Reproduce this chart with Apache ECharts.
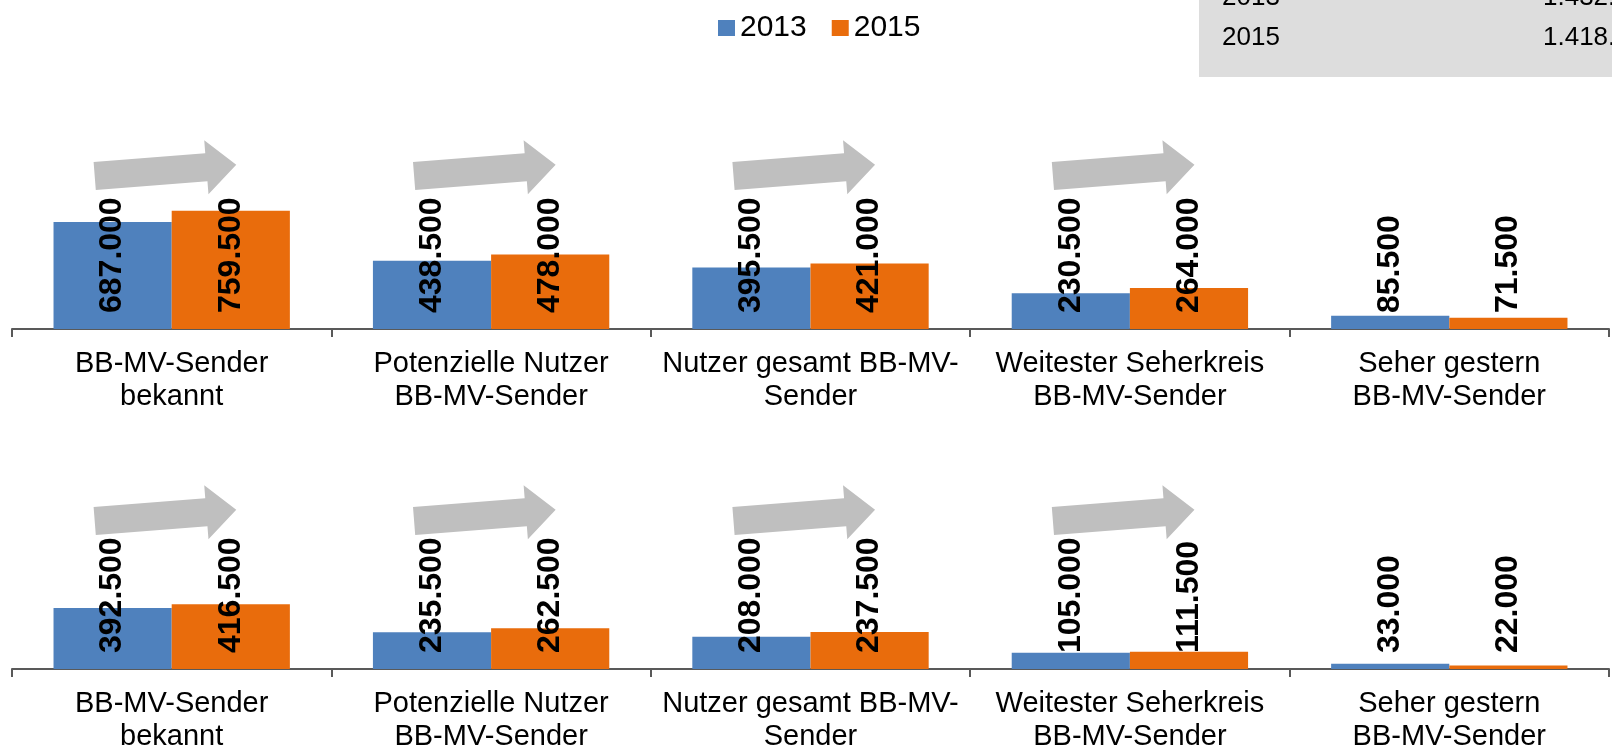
<!DOCTYPE html>
<html>
<head>
<meta charset="utf-8">
<script src="https://cdn.jsdelivr.net/npm/echarts@6.0.0/dist/echarts.min.js"></script>
<style>
    html, body { margin: 0; padding: 0; background: #ffffff; }
    #chart-container { width: 1612px; height: 748px; }
</style>
</head>
<body>
<div id="chart-container"></div>
<script>
    // Kategorien (Umbruch wie im Original)
    var categories = [
        'BB-MV-Sender\nbekannt',
        'Potenzielle Nutzer\nBB-MV-Sender',
        'Nutzer gesamt BB-MV-\nSender',
        'Weitester Seherkreis\nBB-MV-Sender',
        'Seher gestern\nBB-MV-Sender'
    ];
    var years = ['2013', '2015'];

    // oberes Diagramm
    var top2013 = [687000, 438500, 395500, 230500, 85500];
    var top2015 = [759500, 478000, 421000, 264000, 71500];
    // unteres Diagramm
    var bottom2013 = [392500, 235500, 208000, 105000, 33000];
    var bottom2015 = [416500, 262500, 237500, 111500, 22000];

    // graue Box oben rechts
    var boxRows = [['2013', '1.432.000'], ['2015', '1.418.000']];

    // Pfeile nur bei den ersten vier Kategorien
    var arrowCats = [0, 1, 2, 3];

    var FONT = 'Liberation Sans, Arial, sans-serif';
    var BLUE = '#4F81BD';
    var ORANGE = '#E96C0C';

    var dom = document.getElementById('chart-container');
    var myChart = echarts.init(dom, null, { renderer: 'canvas' });

    var barLabel = {
        show: true,
        position: 'insideBottom',
        distance: 16,
        rotate: 90,
        align: 'left',
        verticalAlign: 'middle',
        fontFamily: FONT,
        fontSize: 32,
        fontWeight: 'bold',
        color: '#000',
        formatter: function (p) {
            return p.value.toLocaleString('de-DE');
        }
    };

    function makeXAxis(idx) {
        return {
            type: 'category',
            gridIndex: idx,
            data: categories,
            axisLine: { show: true, lineStyle: { color: '#595959', width: 2 } },
            axisTick: { show: true, length: 8, lineStyle: { color: '#595959', width: 2 } },
            axisLabel: {
                interval: 0,
                margin: 18,
                fontFamily: FONT,
                fontSize: 29,
                lineHeight: 33,
                color: '#000'
            }
        };
    }

    function makeYAxis(idx) {
        return {
            type: 'value',
            gridIndex: idx,
            min: 0,
            max: 1000000,
            show: false,
            splitLine: { show: false }
        };
    }

    function makeSeries(name, data, idx, color) {
        return {
            name: name,
            type: 'bar',
            xAxisIndex: idx,
            yAxisIndex: idx,
            data: data,
            barGap: '0%',
            barCategoryGap: '26%',
            itemStyle: { color: color },
            label: barLabel
        };
    }

    var option = {
        animation: false,
        legend: {
            data: years,
            left: 713,
            top: 8,
            itemWidth: 17,
            itemHeight: 16,
            itemGap: 25,
            icon: 'rect',
            textStyle: { fontFamily: FONT, fontSize: 30, color: '#000' }
        },
        grid: [
            { left: 12, right: 3, top: 173.4, height: 155.6, containLabel: false, outerBoundsMode: 'none' },
            { left: 12, right: 3, top: 513.4, height: 155.6, containLabel: false, outerBoundsMode: 'none' }
        ],
        xAxis: [makeXAxis(0), makeXAxis(1)],
        yAxis: [makeYAxis(0), makeYAxis(1)],
        series: [
            makeSeries(years[0], top2013, 0, BLUE),
            makeSeries(years[1], top2015, 0, ORANGE),
            makeSeries(years[0], bottom2013, 1, BLUE),
            makeSeries(years[1], bottom2015, 1, ORANGE)
        ]
    };
    myChart.setOption(option);

    // Blockpfeil, leicht nach oben geneigt
    function arrowPoints(x0, y0) {
        var a = 4.5 * Math.PI / 180;
        var local = [[0, -14], [112, -14], [112, -27], [142, 0], [112, 27], [112, 14], [0, 14]];
        return local.map(function (p) {
            return [
                x0 + p[0] * Math.cos(a) + p[1] * Math.sin(a),
                y0 - p[0] * Math.sin(a) + p[1] * Math.cos(a)
            ];
        });
    }

    var graphics = [];
    var rises = [153, 148];
    [0, 1].forEach(function (g) {
        var axisY = myChart.convertToPixel({ yAxisIndex: g }, 0);
        arrowCats.forEach(function (c) {
            var cx = myChart.convertToPixel({ xAxisIndex: g }, categories[c]);
            graphics.push({
                type: 'polygon',
                shape: { points: arrowPoints(cx - 77, axisY - rises[g]) },
                style: { fill: '#BFBFBF' },
                z: 10
            });
        });
    });

    graphics.push({
        type: 'rect',
        shape: { x: 1199, y: 0, width: 413, height: 77 },
        style: { fill: '#DDDDDD' },
        z: 1
    });
    boxRows.forEach(function (row, i) {
        var midY = -2 + i * 40;
        graphics.push({
            type: 'text',
            x: 1222, y: midY,
            style: { text: row[0], fontFamily: FONT, fontSize: 26, fill: '#000', verticalAlign: 'middle' },
            z: 2
        });
        graphics.push({
            type: 'text',
            x: 1543, y: midY,
            style: { text: row[1], fontFamily: FONT, fontSize: 26, fill: '#000', verticalAlign: 'middle' },
            z: 2
        });
    });

    myChart.setOption({ graphic: graphics });
</script>
</body>
</html>
